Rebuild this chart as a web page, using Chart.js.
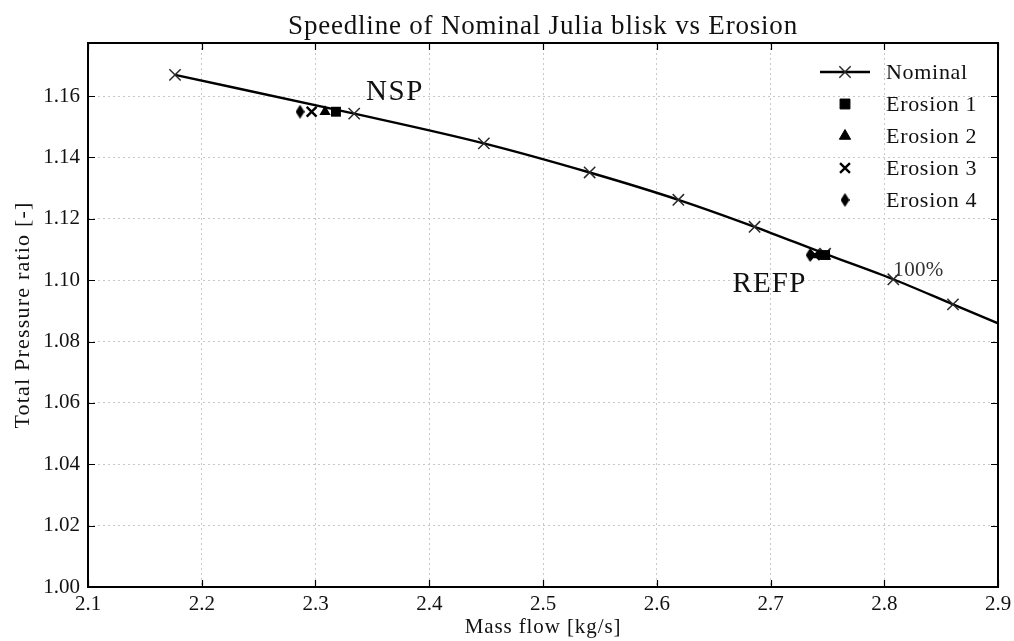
<!DOCTYPE html>
<html>
<head>
<meta charset="utf-8">
<script src="https://cdn.jsdelivr.net/npm/chart.js@4/dist/chart.umd.min.js"></script>
<style>
    body { margin: 0; background: #fff; }
    #wrap { width: 1014px; height: 641px; }
</style>
</head>
<body>
<div id="wrap"><canvas id="speedline"></canvas></div>
<script>
// values
const nominalFlow  = [2.1765, 2.334, 2.448, 2.541, 2.619, 2.686, 2.748, 2.808, 2.8604, 2.92];
const nominalRatio = [1.1669, 1.1543, 1.1446, 1.1351, 1.1262, 1.1174, 1.1086, 1.1003, 1.0921, 1.0828];

const erosion1Flow = [2.318, 2.748];
const erosion2Flow = [2.3084, 2.7426];
const erosion3Flow = [2.2966, 2.739];
const erosion4Flow = [2.2864, 2.7348];
const erosionRatio = [1.1549, 1.1082];

const xTicks = [2.1, 2.2, 2.3, 2.4, 2.5, 2.6, 2.7, 2.8, 2.9];
const yTicks = [1.00, 1.02, 1.04, 1.06, 1.08, 1.10, 1.12, 1.14, 1.16];

const FONT = "'Liberation Serif', 'DejaVu Serif', serif";
const INK = '#111';

function toPoints(xs, ys) {
    return xs.map((x, i) => ({ x: x, y: ys[i] }));
}

// thin diamond like matplotlib 'd'
function makeDiamond() {
    const c = document.createElement('canvas');
    c.width = 9; c.height = 14;
    const g = c.getContext('2d');
    g.fillStyle = '#000';
    g.beginPath();
    g.moveTo(4.5, 0); g.lineTo(9, 7); g.lineTo(4.5, 14); g.lineTo(0, 7);
    g.closePath();
    g.fill();
    return c;
}
const diamond = makeDiamond();

const datasets = [
    {
        label: 'Nominal',
        data: toPoints(nominalFlow, nominalRatio),
        showLine: true,
        borderColor: '#000',
        borderWidth: 2.4,
        cubicInterpolationMode: 'monotone',
        pointStyle: 'crossRot',
        pointRadius: 8,
        pointBorderWidth: 1.5,
        pointBorderColor: '#2a2a2a',
        clip: 0,
        order: 5
    },
    {
        label: 'Erosion 1',
        data: toPoints(erosion1Flow, erosionRatio),
        pointStyle: 'rect',
        pointRadius: 7,
        backgroundColor: '#000',
        borderColor: '#000',
        pointBorderWidth: 0,
        order: 4
    },
    {
        label: 'Erosion 2',
        data: toPoints(erosion2Flow, erosionRatio),
        pointStyle: 'triangle',
        pointRadius: 6.5,
        backgroundColor: '#000',
        borderColor: '#000',
        pointBorderWidth: 0,
        order: 3
    },
    {
        label: 'Erosion 3',
        data: toPoints(erosion3Flow, erosionRatio),
        pointStyle: 'crossRot',
        pointRadius: 7,
        borderColor: '#000',
        pointBorderWidth: 2.4,
        order: 2
    },
    {
        label: 'Erosion 4',
        data: toPoints(erosion4Flow, erosionRatio),
        pointStyle: diamond,
        pointRadius: 8,
        backgroundColor: '#000',
        borderColor: '#000',
        order: 1
    }
];

function spacedText(ctx, text, x, y, size, spacing) {
    ctx.font = size + 'px ' + FONT;
    ctx.letterSpacing = spacing + 'px';
    ctx.fillText(text, x, y);
    ctx.letterSpacing = '0px';
}

// frame, inward ticks, titles, annotations and legend (drawn like matplotlib)
const decorations = {
    id: 'decorations',
    afterDatasetsDraw(chart) {
        const ctx = chart.ctx;
        const a = chart.chartArea;
        const xs = chart.scales.x;
        const ys = chart.scales.y;
        ctx.save();

        // frame
        ctx.strokeStyle = '#000';
        ctx.lineWidth = 2;
        ctx.strokeRect(a.left, a.top, a.right - a.left, a.bottom - a.top);

        // inward ticks on all four sides
        ctx.lineWidth = 1.2;
        ctx.beginPath();
        xTicks.forEach(v => {
            const px = Math.round(xs.getPixelForValue(v)) + 0.5;
            ctx.moveTo(px, a.bottom); ctx.lineTo(px, a.bottom - 7);
            ctx.moveTo(px, a.top); ctx.lineTo(px, a.top + 7);
        });
        yTicks.forEach(v => {
            const py = Math.round(ys.getPixelForValue(v)) + 0.5;
            ctx.moveTo(a.left, py); ctx.lineTo(a.left + 7, py);
            ctx.moveTo(a.right, py); ctx.lineTo(a.right - 7, py);
        });
        ctx.stroke();

        // title and axis titles
        ctx.fillStyle = INK;
        ctx.textAlign = 'center';
        ctx.textBaseline = 'alphabetic';
        spacedText(ctx, 'Speedline of Nominal Julia blisk vs Erosion', (a.left + a.right) / 2, 34, 27, 0.8);
        spacedText(ctx, 'Mass flow [kg/s]', (a.left + a.right) / 2, 633, 21, 0.9);
        ctx.save();
        ctx.translate(29, (a.top + a.bottom) / 2);
        ctx.rotate(-Math.PI / 2);
        spacedText(ctx, 'Total Pressure ratio [-]', 0, 0, 22, 1.2);
        ctx.restore();

        // annotations
        ctx.textAlign = 'left';
        spacedText(ctx, 'NSP', xs.getPixelForValue(2.3445), ys.getPixelForValue(1.1587), 29, 1.5);
        spacedText(ctx, 'REFP', xs.getPixelForValue(2.6665), ys.getPixelForValue(1.0963), 29, 1.2);
        ctx.fillStyle = '#333';
        spacedText(ctx, '100%', xs.getPixelForValue(2.808), ys.getPixelForValue(1.1013), 21, 0.3);

        // legend
        const lx = 845, textX = 886, rowY = [72, 104, 136, 168, 200];
        ctx.textBaseline = 'middle';
        chart.data.datasets.forEach((ds, i) => {
            const y = rowY[i];
            if (ds.showLine) {
                ctx.strokeStyle = '#000';
                ctx.lineWidth = 2.4;
                ctx.beginPath();
                ctx.moveTo(lx - 25, y); ctx.lineTo(lx + 25, y);
                ctx.stroke();
            }
            ctx.fillStyle = '#000';
            ctx.strokeStyle = ds.pointBorderColor || '#000';
            ctx.lineWidth = ds.pointBorderWidth || 1;
            Chart.helpers.drawPoint(ctx, {
                pointStyle: ds.pointStyle,
                radius: ds.pointRadius,
                rotation: 0,
                borderWidth: ds.pointBorderWidth || 1
            }, lx, y);
            ctx.fillStyle = INK;
            spacedText(ctx, ds.label, textX, y + 1, 22, 0.7);
        });
        ctx.restore();
    }
};

new Chart(document.getElementById('speedline'), {
    type: 'scatter',
    data: { datasets: datasets },
    options: {
        responsive: true,
        maintainAspectRatio: false,
        animation: false,
        layout: { padding: { top: 43, right: 16, left: 0, bottom: 0 } },
        plugins: {
            legend: { display: false },
            tooltip: { enabled: false },
            title: { display: false }
        },
        scales: {
            x: {
                type: 'linear',
                min: 2.1,
                max: 2.9,
                afterBuildTicks: axis => { axis.ticks = xTicks.map(v => ({ value: v })); },
                afterFit: axis => {
                    axis.height = 54;
                    axis.paddingLeft = 0;
                    axis.paddingRight = 0;
                },
                grid: { color: '#c8c8c8', drawTicks: false, lineWidth: 1 },
                border: { display: false, dash: [2, 3] },
                ticks: {
                    padding: 5,
                    color: INK,
                    font: { family: FONT, size: 21 },
                    callback: v => v.toFixed(1)
                }
            },
            y: {
                type: 'linear',
                min: 1.0,
                max: 1.1773,
                afterBuildTicks: axis => { axis.ticks = yTicks.map(v => ({ value: v })); },
                afterFit: axis => { axis.width = 88; },
                grid: { color: '#c8c8c8', drawTicks: false, lineWidth: 1 },
                border: { display: false, dash: [2, 3] },
                ticks: {
                    padding: 8,
                    color: INK,
                    font: { family: FONT, size: 21 },
                    callback: v => v.toFixed(2)
                }
            }
        }
    },
    plugins: [decorations]
});
</script>
</body>
</html>
